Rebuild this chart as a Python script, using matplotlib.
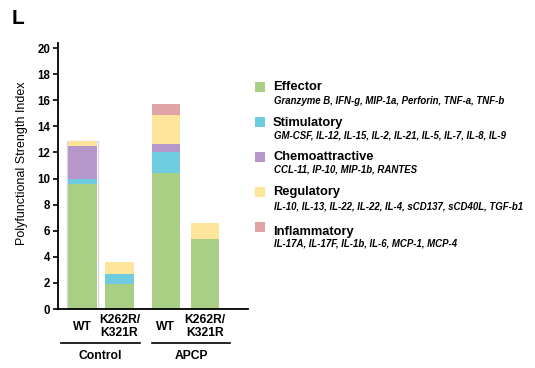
import matplotlib
matplotlib.use('Agg')
import matplotlib.pyplot as plt
from matplotlib.patches import Rectangle
import numpy as np

plt.rcParams['font.family'] = ['Liberation Sans', 'DejaVu Sans']

# Data: stacked cytokine category contributions per condition
conditions = ['WT', 'K262R/\nK321R', 'WT', 'K262R/\nK321R']
groups = ['Control', 'APCP']
categories = ['Effector', 'Stimulatory', 'Chemoattractive', 'Regulatory', 'Inflammatory']
effector        = [9.55, 1.90, 10.45, 5.35]
stimulatory     = [0.45, 0.76, 1.55, 0.0]
chemoattractive = [2.50, 0.0, 0.65, 0.0]
regulatory      = [0.40, 0.97, 2.25, 1.22]
inflammatory    = [0.0, 0.0, 0.80, 0.0]
cytokines = [
    'Granzyme B, IFN-g, MIP-1a, Perforin, TNF-a, TNF-b',
    'GM-CSF, IL-12, IL-15, IL-2, IL-21, IL-5, IL-7, IL-8, IL-9',
    'CCL-11, IP-10, MIP-1b, RANTES',
    'IL-10, IL-13, IL-22, IL-22, IL-4, sCD137, sCD40L, TGF-b1',
    'IL-17A, IL-17F, IL-1b, IL-6, MCP-1, MCP-4',
]
colors = ['#a9cf85', '#6fcbe0', '#b597c9', '#fde49b', '#e0a3a6']

series = [effector, stimulatory, chemoattractive, regulatory, inflammatory]

fig = plt.figure(figsize=(5.35, 3.68), dpi=100)
W, H = 535, 368
ax = fig.add_axes([58 / W, 1 - 309 / H, 190 / W, (309 - 42.8) / H])

xpos = np.array([0, 1, 2.25, 3.3])
width = 0.76
bottom = np.zeros(len(xpos))
for vals, c in zip(series, colors):
    vals = np.array(vals)
    ax.bar(xpos, vals, width, bottom=bottom, color=c, edgecolor='none', zorder=2)
    bottom += vals

# faint outline around first bar (as in source image)
ax.bar(xpos[0], bottom[0], width + 0.08, facecolor='none', edgecolor='#ddd6e8',
       linewidth=1.0, zorder=1)

ax.set_xlim(-0.662, 4.47)
ax.set_ylim(0, 20.4)
ax.set_yticks(np.arange(0, 21, 2))
ax.set_xticks([])
for lab in ax.get_yticklabels():
    lab.set_fontweight('bold')
ax.tick_params(axis='y', labelsize=8.3, length=3.5, width=1.2, pad=2)
for s in ['top', 'right']:
    ax.spines[s].set_visible(False)
for s in ['left', 'bottom']:
    ax.spines[s].set_linewidth(1.3)

# condition labels
tr = ax.get_xaxis_transform()
for x, lab in zip(xpos, conditions):
    ax.text(x, -0.066, lab, transform=tr, ha='center', va='center',
            fontsize=8.7, fontweight='bold', linespacing=1.05)

# group bars and labels
spans = [(-0.58, 1.55), (1.87, 3.99)]
for (a, b), g in zip(spans, groups):
    ax.plot([a, b], [-0.127, -0.127], transform=tr, color='black', lw=1.2,
            clip_on=False)
    ax.text((a + b) / 2, -0.178, g, transform=tr, ha='center', va='center',
            fontsize=8.7, fontweight='bold')

fig.text(22 / W, 1 - 163 / H, 'Polyfunctional Strength Index', rotation=90,
         ha='center', va='center', fontsize=9)
fig.text(12 / W, 1 - 19 / H, 'L', ha='left', va='center', fontsize=15,
         fontweight='bold')

# legend
title_y = [87, 123, 157.5, 192.5, 231.5]
sub_y = [101, 136, 170, 206, 244]
box_y = [86.7, 122, 157, 192, 226.7]
for i in range(len(categories)):
    fig.patches.append(Rectangle((255 / W, 1 - (box_y[i] + 5) / H), 10 / W, 10 / H,
                                 transform=fig.transFigure, facecolor=colors[i],
                                 edgecolor='none'))
    fig.text(273 / W, 1 - title_y[i] / H, categories[i], ha='left', va='center',
             fontsize=9.3, fontweight='bold')
    fig.text(274 / W, 1 - sub_y[i] / H, cytokines[i], ha='left', va='center',
             fontsize=6.9, fontweight='bold', style='italic')

fig.savefig('out.png', dpi=100)
